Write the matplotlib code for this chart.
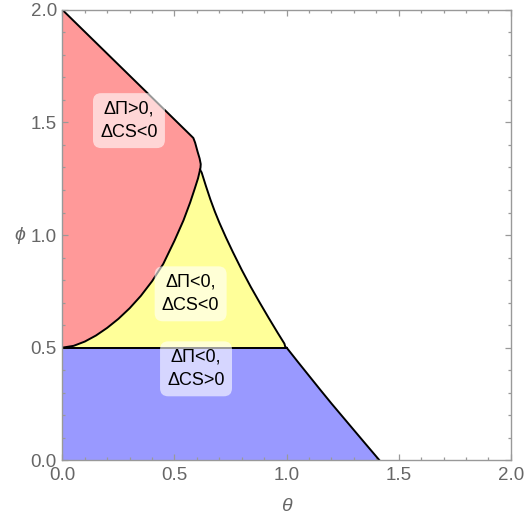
import matplotlib
matplotlib.use("Agg")
import matplotlib.pyplot as plt
from matplotlib.ticker import MultipleLocator, FormatStrFormatter

plt.rcParams['font.family'] = ['Liberation Sans', 'DejaVu Sans']

# Boundary curves (theta, phi)
# Red upper boundary: from (0,2) down to the cusp
red_top_theta = [0.0, 0.584, 0.592, 0.603, 0.612, 0.617, 0.616, 0.614]
red_top_phi = [2.0, 1.431, 1.410, 1.370, 1.340, 1.315, 1.300, 1.290]
# Red / yellow boundary: from cusp down to (0, 0.5)
ry_theta = [0.614, 0.605, 0.590, 0.570, 0.540, 0.500, 0.450, 0.400,
            0.350, 0.300, 0.250, 0.200, 0.150, 0.100, 0.050, 0.0]
ry_phi = [1.290, 1.252, 1.205, 1.145, 1.065, 0.975, 0.872, 0.795,
          0.730, 0.675, 0.628, 0.588, 0.554, 0.527, 0.508, 0.5]
# Yellow right boundary: from apex down to phi = 0.5
yel_theta = [0.621, 0.640, 0.660, 0.680, 0.700, 0.730, 0.760, 0.800, 0.840,
             0.880, 0.920, 0.960, 0.990, 0.995]
yel_phi = [1.278, 1.218, 1.158, 1.104, 1.055, 0.988, 0.925, 0.845, 0.770,
           0.700, 0.632, 0.566, 0.518, 0.5]
# Blue right boundary: from (1, 0.5) down to phi = 0
blue_theta = [1.000, 1.050, 1.100, 1.150, 1.200, 1.250, 1.300, 1.350, 1.414]
blue_phi = [0.500, 0.437, 0.375, 0.313, 0.252, 0.193, 0.134, 0.075, 0.0]

labels = ["ΔΠ>0,\nΔCS<0", "ΔΠ<0,\nΔCS<0", "ΔΠ<0,\nΔCS>0"]
label_x = [0.297, 0.572, 0.596]
label_y = [1.508, 0.739, 0.406]

c_red = '#ff9999'
c_yel = '#ffff99'
c_blue = '#9999ff'

fig = plt.figure(figsize=(5.24, 5.16), dpi=100)
ax = fig.add_axes([0.119, 0.108, 0.856, 0.873])

# Red region
rx = [0.0] + red_top_theta + ry_theta[1:]
ry = [0.5] + red_top_phi + ry_phi[1:]
ax.fill(rx, ry, color=c_red, lw=0, zorder=1)

# Yellow region
yx = ry_theta[::-1] + yel_theta
yy = ry_phi[::-1] + yel_phi
ax.fill(yx, yy, color=c_yel, lw=0, zorder=1)

# Blue region
bx = [0.0, 0.0] + blue_theta
by = [0.0, 0.5] + blue_phi
ax.fill(bx, by, color=c_blue, lw=0, zorder=1)

lw = 1.4
kw = dict(color='black', lw=lw, zorder=2, solid_joinstyle='round')
ax.plot(red_top_theta, red_top_phi, **kw)
ax.plot(ry_theta, ry_phi, **kw)
ax.plot([0.614] + yel_theta, [1.29] + yel_phi, **kw)
ax.plot([0.0, 1.0], [0.5, 0.5], **kw)
ax.plot(blue_theta, blue_phi, **kw)

for t, x, y in zip(labels, label_x, label_y):
    ax.text(x, y, t, ha='center', va='center', fontsize=13, color='black',
            linespacing=1.5, zorder=3,
            bbox=dict(boxstyle='round,pad=0.4,rounding_size=0.45', fc='white',
                      ec='none', alpha=0.6))

ax.set_xlim(0, 2)
ax.set_ylim(0, 2)
ax.xaxis.set_major_locator(MultipleLocator(0.5))
ax.yaxis.set_major_locator(MultipleLocator(0.5))
ax.xaxis.set_minor_locator(MultipleLocator(0.1))
ax.yaxis.set_minor_locator(MultipleLocator(0.1))
ax.xaxis.set_major_formatter(FormatStrFormatter('%.1f'))
ax.yaxis.set_major_formatter(FormatStrFormatter('%.1f'))
ax.tick_params(which='both', direction='in', top=True, right=True,
               colors='#999999', labelcolor='#666666', labelsize=13.5, width=0.9)
ax.tick_params(which='major', length=4.5)
ax.tick_params(which='minor', length=2.5)
ax.tick_params(axis='x', which='major', pad=5)
ax.tick_params(axis='y', which='major', pad=4)
for s in ax.spines.values():
    s.set_color('#999999')
    s.set_linewidth(1.0)
    s.set_zorder(5)

ax.set_xlabel('θ', fontsize=14, color='#666666', style='italic', labelpad=10)
ax.set_ylabel('ϕ', fontsize=14, color='#666666', style='italic', rotation=0,
              labelpad=8, va='center')

fig.savefig('out.png', dpi=100)
